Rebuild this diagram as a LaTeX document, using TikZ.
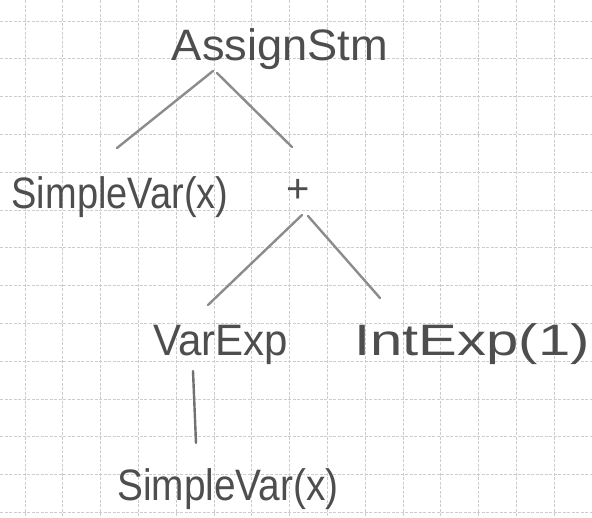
\documentclass[tikz,border=0pt]{standalone}
\usepackage{fontspec}
\setmainfont{Liberation Sans}
\usepackage{xcolor}
\usepackage{tikz}
\usetikzlibrary{arrows.meta,positioning,calc}
\definecolor{pencil}{HTML}{4E4E4E}
\definecolor{stroke}{HTML}{8C8C8C}
\definecolor{gridgray}{HTML}{CDCDCD}

\begin{document}
\begin{tikzpicture}[x=1pt,y=1pt,
		lbl/.style={anchor=base,inner sep=0pt,text=pencil,font=\fontsize{40}{48}\selectfont},
		e/.style={draw=stroke,line width=2.4pt,line cap=round}
		]
		% paper
		\fill[white] (0,0) rectangle (592,-517);
		\useasboundingbox (0,0) rectangle (592,-517);
		\foreach \i in {0,...,15} \draw[gridgray,line width=0.8pt,dash pattern=on 3pt off 1.5pt] (25+37.8*\i,0) -- (25+37.8*\i,-517);
		\foreach \j in {0,...,13} \draw[gridgray,line width=0.8pt,dash pattern=on 3pt off 1.5pt] (0,-21-37.8*\j) -- (592,-21-37.8*\j);
		% tree
		\node[lbl] (assign) at (280,-60) {\scalebox{1.13}[1.1]{AssignStm}};
		\node[lbl] (svar1) at (120,-208) {\scalebox{0.95}[1.1]{SimpleVar(x)}};
		\node[lbl] (plus) at (298,-202) {+};
		\node[lbl] (varexp) at (221,-355) {\scalebox{1.05}[1.1]{VarExp}};
		\node[lbl] (intexp) at (472,-355) {\scalebox{1.45}[1.1]{IntExp(1)}};
		\node[lbl] (svar2) at (228,-500) {\scalebox{0.97}[1.1]{SimpleVar(x)}};
		\draw[e] ([shift={(-67,-11)}]assign.base) -- ([shift={(-3,60)}]svar1.base);
		\draw[e] ([shift={(-63,-13)}]assign.base) -- ([shift={(-6,55)}]plus.base);
		\draw[e] ([shift={(4,-13)}]plus.base) -- ([shift={(-13,50)}]varexp.base);
		\draw[e] ([shift={(10,-14)}]plus.base) -- ([shift={(-92,57)}]intexp.base);
		\draw[e,draw=pencil!80] ([shift={(-28,-16)}]varexp.base) -- ([shift={(-32,57)}]svar2.base);
	\end{tikzpicture}
\end{document}
